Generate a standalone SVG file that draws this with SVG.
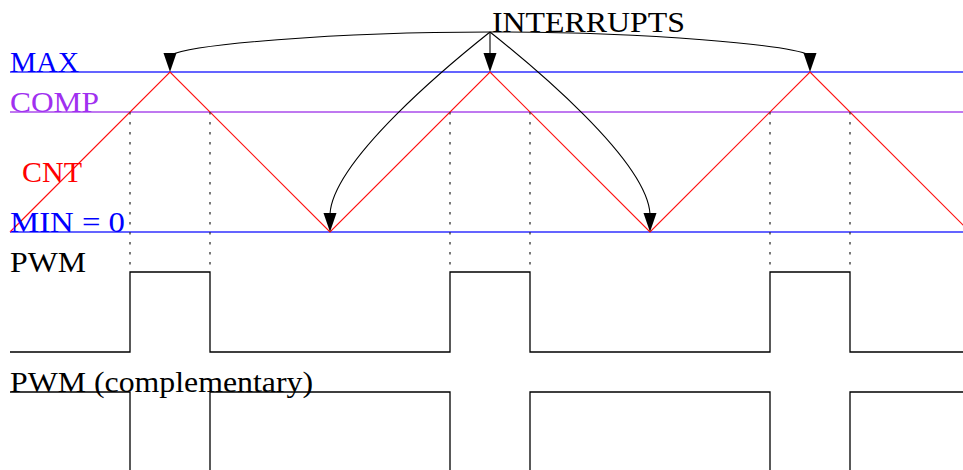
<svg xmlns="http://www.w3.org/2000/svg" width="963" height="470" viewBox="0 0 963 470">
<style>
text{font-family:"Liberation Serif","DejaVu Serif",serif;font-size:29px}
.blue{stroke:#3030ff;stroke-width:1.4;fill:none}
.comp{stroke:#bf78f0;stroke-width:2;fill:none}
.cnt{stroke:#ff1010;stroke-width:1.2;fill:none}
.dot{stroke:#333;stroke-width:1.3;stroke-dasharray:2.5 7.5;fill:none}
.sig{stroke:#000;stroke-width:1.3;fill:none}
.arc{stroke:#000;stroke-width:1.1;fill:none}
</style>
<defs>
<path id="head" d="M0,0 L-6.5,-19 L6.5,-19 Z" fill="#000"/>
</defs>
<g id="levels">
<line class="blue" x1="10" y1="72" x2="963" y2="72"/>
<line class="comp" x1="10" y1="112" x2="963" y2="112"/>
<line class="blue" x1="10" y1="232" x2="963" y2="232"/>
</g>
<g id="counter">
<polyline class="cnt" points="10,232 170,72 330,232 490,72 650,232 810,72 970,232"/>
</g>
<g id="compare-marks">
<line class="dot" x1="130" y1="112" x2="130" y2="272"/>
<line class="dot" x1="210" y1="112" x2="210" y2="272"/>
<line class="dot" x1="450" y1="112" x2="450" y2="272"/>
<line class="dot" x1="530" y1="112" x2="530" y2="272"/>
<line class="dot" x1="770" y1="112" x2="770" y2="272"/>
<line class="dot" x1="850" y1="112" x2="850" y2="272"/>
</g>
<g id="pwm">
<polyline class="sig" points="10,352 130,352 130,272 210,272 210,352 450,352 450,272 530,272 530,352 770,352 770,272 850,272 850,352 963,352"/>
</g>
<g id="pwm-complementary">
<polyline class="sig" points="10,392 130,392 130,475"/>
<polyline class="sig" points="210,475 210,392 450,392 450,475"/>
<polyline class="sig" points="530,475 530,392 770,392 770,475"/>
<polyline class="sig" points="850,475 850,392 963,392"/>
</g>
<g id="label-max"><text x="10" y="72" fill="#0000ff" textLength="69" lengthAdjust="spacingAndGlyphs">MAX</text></g>
<g id="label-comp"><text x="10" y="112" fill="#a030f0" textLength="89" lengthAdjust="spacingAndGlyphs">COMP</text></g>
<g id="label-cnt"><text x="22" y="182" fill="#ff0000" textLength="60" lengthAdjust="spacingAndGlyphs">CNT</text></g>
<g id="label-min"><text x="10" y="232" fill="#0000ff" textLength="115" lengthAdjust="spacingAndGlyphs">MIN = 0</text></g>
<g id="label-pwm"><text x="10" y="272" fill="#000" textLength="76" lengthAdjust="spacingAndGlyphs">PWM</text></g>
<g id="label-pwm-comp"><text x="10" y="392" fill="#000" textLength="303" lengthAdjust="spacingAndGlyphs">PWM (complementary)</text></g>
<g id="interrupts"><text x="492" y="32" fill="#000" textLength="193" lengthAdjust="spacingAndGlyphs">INTERRUPTS</text></g>
<g id="connectors">
<path class="arc" d="M490,32 C330,32 190,45 171,55"/>
<use href="#head" x="170" y="72"/>
<path class="arc" d="M490,32 C451,63 333,160 330,214"/>
<use href="#head" x="330" y="232"/>
<path class="arc" d="M490,32 L490,54"/>
<use href="#head" x="490" y="72"/>
<path class="arc" d="M490,32 C529,63 647,160 650,214"/>
<use href="#head" x="650" y="232"/>
<path class="arc" d="M490,32 C650,32 790,45 809,55"/>
<use href="#head" x="810" y="72"/>
</g>
</svg>
